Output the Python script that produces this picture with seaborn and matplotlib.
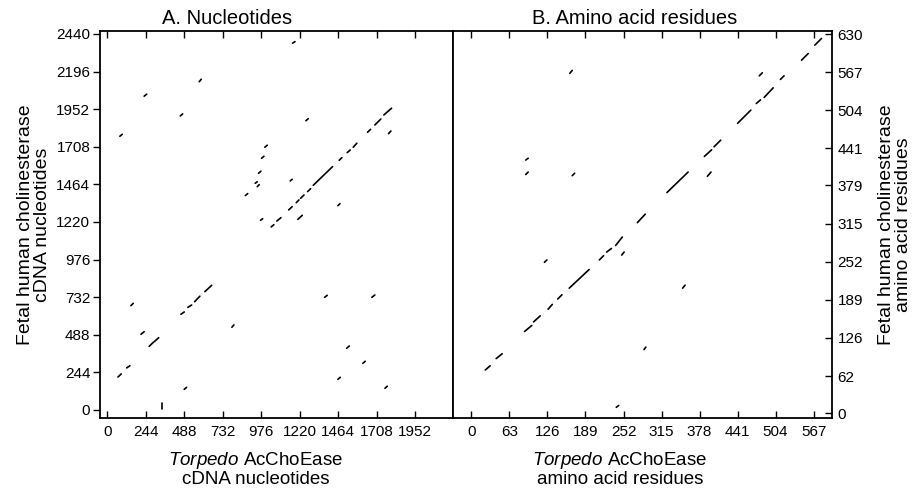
import matplotlib
matplotlib.use("Agg")
import matplotlib.pyplot as plt
import seaborn as sns
import pandas as pd

# Panel A: nucleotide dot-plot segments (start/end in nucleotides)
nuc_x0 = [1175, 583, 234, 463, 80, 1259, 1753, 1696, 1650, 1783, 1559, 1521, 1470,
          1306, 1270, 1226, 1198, 1150, 1208, 1075, 1039, 972, 1160, 1462, 999, 978,
          959, 938, 951, 875, 619, 554, 511, 467, 150, 214, 266, 298, 68, 123, 488,
          345, 790, 1378, 1677, 1517, 1620, 1462, 1760]
nuc_x1 = [1190, 596, 250, 478, 95, 1274, 1802, 1734, 1669, 1798, 1582, 1540, 1487,
          1428, 1289, 1247, 1215, 1172, 1236, 1101, 1056, 985, 1172, 1475, 1014, 993,
          974, 951, 963, 890, 662, 587, 535, 488, 165, 234, 292, 326, 89, 144, 503,
          345, 803, 1394, 1696, 1534, 1635, 1477, 1775]
nuc_y0 = [2380, 2130, 2036, 1908, 1776, 1877, 1914, 1849, 1802, 1793, 1705, 1670, 1620,
          1458, 1417, 1374, 1345, 1298, 1237, 1226, 1188, 1231, 1486, 1326, 1705, 1633,
          1536, 1471, 1449, 1391, 768, 703, 666, 621, 677, 491, 413, 443, 214, 273, 134,
          8, 537, 731, 731, 400, 303, 199, 141]
nuc_y1 = [2390, 2146, 2049, 1921, 1789, 1890, 1958, 1888, 1821, 1810, 1731, 1687, 1637,
          1579, 1436, 1395, 1363, 1319, 1263, 1248, 1202, 1241, 1497, 1339, 1718, 1646,
          1549, 1481, 1462, 1404, 809, 738, 681, 636, 692, 508, 439, 469, 234, 287, 147,
          48, 552, 744, 746, 415, 316, 212, 154]

# Panel B: amino acid dot-plot segments (start/end in residues)
aa_x0 = [547, 569, 512, 477, 485, 472, 441, 402, 386, 391, 324, 275, 239, 224, 212,
         249, 121, 163, 90, 90, 167, 162, 143, 127, 103, 88, 41, 23, 350, 286, 240]
aa_x1 = [558, 580, 518, 482, 500, 479, 463, 413, 398, 397, 359, 288, 250, 232, 219,
         253, 125, 167, 94, 94, 171, 195, 150, 134, 114, 100, 51, 31, 354, 289, 244]
aa_y0 = [587, 612, 555, 561, 525, 515, 482, 443, 427, 394, 367, 317, 279, 268, 255,
         263, 251, 565, 421, 397, 395, 208, 190, 173, 152, 136, 91, 72, 208, 106, 10]
aa_y1 = [598, 623, 561, 566, 541, 521, 504, 454, 438, 401, 401, 331, 293, 274, 262,
         268, 255, 570, 424, 401, 399, 239, 197, 181, 162, 146, 99, 79, 213, 110, 13]

nuc_ticks_x = [0, 244, 488, 732, 976, 1220, 1464, 1708, 1952]
nuc_ticks_y = [0, 244, 488, 732, 976, 1220, 1464, 1708, 1952, 2196, 2440]
aa_ticks_x = [0, 63, 126, 189, 252, 315, 378, 441, 504, 567]
aa_ticks_y = [0, 62, 126, 189, 252, 315, 379, 441, 504, 567, 630]


def segments_frame(x0, x1, y0, y1):
    rows = []
    for i in range(len(x0)):
        rows.append({"seg": i, "x": x0[i], "y": y0[i]})
        rows.append({"seg": i, "x": x1[i], "y": y1[i]})
    return pd.DataFrame(rows)


sns.set_style("ticks")
plt.rcParams["font.family"] = ["Liberation Sans", "DejaVu Sans"]
plt.rcParams["mathtext.fontset"] = "custom"
plt.rcParams["mathtext.rm"] = "Liberation Sans"
plt.rcParams["mathtext.it"] = "Liberation Sans:italic"
plt.rcParams["text.color"] = "black"
plt.rcParams["axes.labelcolor"] = "black"
plt.rcParams["xtick.color"] = "black"
plt.rcParams["ytick.color"] = "black"

fig = plt.figure(figsize=(9.13, 4.92), dpi=100)
ax_a = fig.add_axes([0.1095, 0.1504, 0.3866, 0.7866])
ax_b = fig.add_axes([0.4962, 0.1504, 0.4151, 0.7866])

for ax, df in [(ax_a, segments_frame(nuc_x0, nuc_x1, nuc_y0, nuc_y1)),
               (ax_b, segments_frame(aa_x0, aa_x1, aa_y0, aa_y1))]:
    sns.lineplot(data=df, x="x", y="y", units="seg", estimator=None, sort=False,
                 color="black", linewidth=1.2, ax=ax, legend=False)
    for s in ax.spines.values():
        s.set_visible(True)
        s.set_linewidth(1.3)
        s.set_color("black")

# panel A
ax_a.set_xlim(-46, 2191)
ax_a.set_ylim(-52, 2459)
ax_a.set_xticks(nuc_ticks_x)
ax_a.set_yticks(nuc_ticks_y)
ax_a.tick_params(axis="x", direction="in", top=True, length=5, width=1, labelsize=11, pad=5)
ax_a.tick_params(axis="y", direction="out", left=True, right=False, length=5, width=1,
                 labelsize=11, pad=2)
ax_a.set_title("A. Nucleotides", fontsize=14.5, pad=5, x=0.36)
ax_a.set_xlabel("$\\it{Torpedo}$ AcChoEase\ncDNA nucleotides", fontsize=13.5,
                linespacing=1.05)
ax_a.xaxis.set_label_coords(0.44, -0.082, transform=ax_a.transAxes)
ax_a.xaxis.label.set_va("top")
ax_a.set_ylabel("Fetal human cholinesterase\ncDNA nucleotides", fontsize=14, linespacing=1.0)

# panel B
ax_b.set_xlim(-30.5, 597.5)
ax_b.set_ylim(-7.8, 635.5)
ax_b.set_xticks(aa_ticks_x)
ax_b.set_yticks(aa_ticks_y)
ax_b.yaxis.tick_right()
ax_b.yaxis.set_label_position("right")
ax_b.tick_params(axis="x", direction="in", top=True, length=5, width=1, labelsize=11, pad=5)
ax_b.tick_params(axis="y", direction="in", left=False, right=True, length=5, width=1,
                 labelsize=11, pad=4)
ax_b.set_title("B. Amino acid residues", fontsize=14.5, pad=5, x=0.48)
ax_b.set_xlabel("$\\it{Torpedo}$ AcChoEase\namino acid residues", fontsize=13.5,
                linespacing=1.05)
ax_b.xaxis.set_label_coords(0.44, -0.082, transform=ax_b.transAxes)
ax_b.xaxis.label.set_va("top")
ax_b.set_ylabel("Fetal human cholinesterase\namino acid residues", fontsize=14,
                linespacing=1.0, rotation=90, labelpad=11)

fig.savefig("out.png", dpi=100)
